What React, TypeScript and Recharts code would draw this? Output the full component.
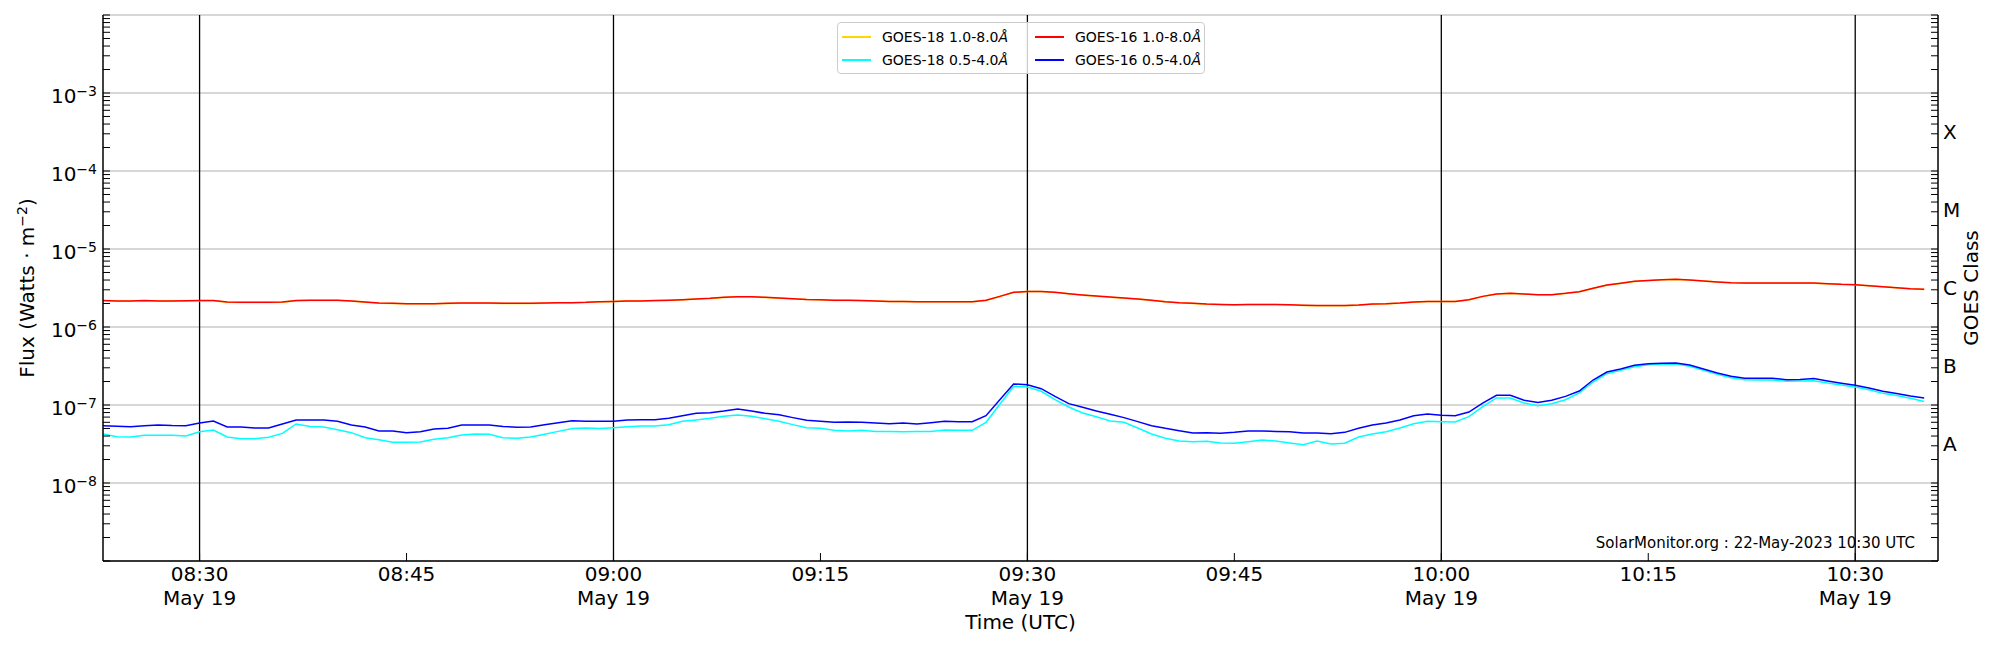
import React from 'react'
import { ComposedChart, Line, XAxis, YAxis, ReferenceLine, Legend } from 'recharts'

const FONT = '"DejaVu Sans", "Liberation Sans", sans-serif'

// one sample per minute, minutes after 08:00 UTC on 19 May 2023
const FIRST_MINUTE = 23
const LONG_UNIT = 1e-6
const SHORT_UNIT = 1e-8

// GOES-16 1.0-8.0 A, in 1e-6 W/m2
const goes16Long = [
  2.18, 2.16, 2.16, 2.18, 2.16, 2.16, 2.17, 2.18, 2.18, 2.09,
  2.07, 2.07, 2.07, 2.09, 2.18, 2.2, 2.2, 2.2, 2.16, 2.09,
  2.03, 2.01, 1.99, 1.99, 1.99, 2.01, 2.03, 2.03, 2.03, 2.01,
  2.01, 2.01, 2.03, 2.05, 2.05, 2.07, 2.11, 2.13, 2.16, 2.16,
  2.18, 2.2, 2.24, 2.29, 2.33, 2.4, 2.45, 2.45, 2.4, 2.35,
  2.31, 2.26, 2.24, 2.2, 2.2, 2.18, 2.16, 2.13, 2.13, 2.11,
  2.11, 2.11, 2.11, 2.11, 2.2, 2.47, 2.78, 2.86, 2.86, 2.78,
  2.67, 2.57, 2.49, 2.42, 2.35, 2.29, 2.2, 2.11, 2.05, 2.01,
  1.97, 1.95, 1.93, 1.95, 1.95, 1.95, 1.93, 1.9, 1.88, 1.88,
  1.88, 1.91, 1.97, 1.99, 2.03, 2.09, 2.13, 2.13, 2.13, 2.24,
  2.47, 2.65, 2.7, 2.65, 2.6, 2.6, 2.7, 2.84, 3.13, 3.45,
  3.63, 3.85, 3.96, 4.04, 4.08, 4.0, 3.89, 3.78, 3.7, 3.66,
  3.66, 3.66, 3.66, 3.66, 3.66, 3.59, 3.52, 3.49, 3.39, 3.29,
  3.19, 3.1, 3.04,
]

// GOES-18 1.0-8.0 A, hidden under the GOES-16 curve
const goes18Long = [
  2.17, 2.15, 2.15, 2.17, 2.15, 2.15, 2.16, 2.17, 2.17, 2.08,
  2.06, 2.06, 2.06, 2.08, 2.17, 2.19, 2.19, 2.19, 2.15, 2.08,
  2.02, 2.0, 1.98, 1.98, 1.98, 2.0, 2.02, 2.02, 2.02, 2.0,
  2.0, 2.0, 2.02, 2.04, 2.04, 2.06, 2.1, 2.12, 2.15, 2.15,
  2.17, 2.19, 2.23, 2.28, 2.32, 2.39, 2.44, 2.44, 2.39, 2.34,
  2.3, 2.25, 2.23, 2.19, 2.19, 2.17, 2.15, 2.12, 2.12, 2.1,
  2.1, 2.1, 2.1, 2.1, 2.19, 2.46, 2.77, 2.85, 2.85, 2.77,
  2.66, 2.56, 2.48, 2.41, 2.34, 2.28, 2.19, 2.1, 2.04, 2.0,
  1.96, 1.94, 1.92, 1.94, 1.94, 1.94, 1.92, 1.89, 1.87, 1.87,
  1.87, 1.9, 1.96, 1.98, 2.02, 2.08, 2.12, 2.12, 2.12, 2.23,
  2.46, 2.64, 2.69, 2.64, 2.59, 2.59, 2.69, 2.83, 3.12, 3.44,
  3.62, 3.84, 3.95, 4.03, 4.07, 3.99, 3.88, 3.77, 3.69, 3.65,
  3.65, 3.65, 3.65, 3.65, 3.65, 3.58, 3.51, 3.48, 3.38, 3.28,
  3.18, 3.09, 3.03,
]

// GOES-16 0.5-4.0 A, in 1e-8 W/m2
const goes16Short = [
  5.43, 5.35, 5.27, 5.4, 5.54, 5.45, 5.43, 5.88, 6.24, 5.22,
  5.22, 5.07, 5.07, 5.71, 6.43, 6.43, 6.43, 6.18, 5.54, 5.22,
  4.65, 4.65, 4.42, 4.55, 4.92, 5.02, 5.54, 5.54, 5.54, 5.32,
  5.17, 5.22, 5.6, 5.94, 6.27, 6.18, 6.18, 6.18, 6.43, 6.49,
  6.49, 6.75, 7.3, 7.82, 7.98, 8.38, 8.89, 8.38, 7.82, 7.52,
  6.89, 6.36, 6.18, 6.0, 6.06, 6.0, 5.88, 5.76, 5.88, 5.71,
  5.94, 6.18, 6.12, 6.12, 7.3, 11.7, 18.6, 18.2, 16.2, 12.9,
  10.4, 9.33, 8.38, 7.59, 6.89, 6.12, 5.43, 5.02, 4.69, 4.38,
  4.42, 4.33, 4.46, 4.65, 4.65, 4.59, 4.55, 4.38, 4.38, 4.29,
  4.46, 5.02, 5.54, 5.88, 6.43, 7.3, 7.67, 7.38, 7.3, 8.13,
  10.6, 13.3, 13.3, 11.5, 10.8, 11.5, 12.9, 15.1, 20.9, 26.5,
  29.0, 32.3, 33.9, 34.3, 34.5, 32.6, 29.0, 25.7, 23.3, 22.0,
  22.0, 22.0, 21.1, 21.3, 21.8, 20.3, 19.0, 17.9, 16.5, 15.0,
  14.0, 13.0, 12.3,
]

// GOES-18 0.5-4.0 A, in 1e-8 W/m2
const goes18Short = [
  4.25, 3.93, 3.89, 4.08, 4.08, 4.08, 4.01, 4.55, 4.78, 3.89,
  3.7, 3.7, 3.85, 4.33, 5.71, 5.32, 5.22, 4.83, 4.42, 3.81,
  3.59, 3.32, 3.32, 3.36, 3.63, 3.81, 4.12, 4.25, 4.21, 3.81,
  3.74, 3.89, 4.21, 4.59, 4.98, 5.07, 4.98, 5.12, 5.27, 5.38,
  5.38, 5.6, 6.18, 6.43, 6.75, 7.16, 7.45, 7.16, 6.68, 6.18,
  5.6, 5.12, 5.02, 4.73, 4.65, 4.73, 4.59, 4.59, 4.55, 4.59,
  4.59, 4.78, 4.73, 4.73, 6.0, 10.2, 17.3, 17.0, 15.0, 11.7,
  9.42, 7.89, 7.08, 6.24, 6.0, 5.07, 4.25, 3.74, 3.45, 3.39,
  3.42, 3.26, 3.23, 3.39, 3.56, 3.45, 3.26, 3.1, 3.45, 3.16,
  3.23, 3.89, 4.25, 4.55, 5.07, 5.76, 6.18, 6.12, 6.06, 7.08,
  9.52, 12.3, 12.3, 10.6, 9.8, 10.4, 11.7, 14.3, 19.7, 25.2,
  27.8, 31.0, 32.9, 33.3, 33.6, 31.3, 27.8, 24.7, 22.4, 21.1,
  20.9, 20.9, 20.1, 20.3, 20.5, 19.1, 18.0, 17.0, 15.7, 14.1,
  13.2, 12.2, 11.1,
]

const timeTicks = [30, 45, 60, 75, 90, 105, 120, 135, 150]
const dayTicks = [30, 60, 90, 120, 150]
const dayLabel = 'May 19'
const decadeExponents = [-9, -8, -7, -6, -5, -4, -3, -2]
const labelledExponents = [-8, -7, -6, -5, -4, -3]
const goesClasses = [
  { letter: 'A', exp: -7.5 },
  { letter: 'B', exp: -6.5 },
  { letter: 'C', exp: -5.5 },
  { letter: 'M', exp: -4.5 },
  { letter: 'X', exp: -3.5 },
]
const series = [
  { key: 'g18l', name: 'GOES-18 1.0-8.0', color: '#ffd700' },
  { key: 'g18s', name: 'GOES-18 0.5-4.0', color: '#00ffff' },
  { key: 'g16l', name: 'GOES-16 1.0-8.0', color: '#ff0000' },
  { key: 'g16s', name: 'GOES-16 0.5-4.0', color: '#0000ff' },
]
const creditText = 'SolarMonitor.org : 22-May-2023 10:30 UTC'

const data = goes16Long.map((_, i) => ({
  t: FIRST_MINUTE + i,
  g18l: goes18Long[i] * LONG_UNIT,
  g18s: goes18Short[i] * SHORT_UNIT,
  g16l: goes16Long[i] * LONG_UNIT,
  g16s: goes16Short[i] * SHORT_UNIT,
}))

const logTicks = decadeExponents.flatMap((e) =>
  e === -2 ? [10 ** e] : [1, 2, 3, 4, 5, 6, 7, 8, 9].map((m) => m * 10 ** e),
)
const rightTicks = [...logTicks, ...goesClasses.map((c) => 10 ** c.exp)]

const hhmm = (m: number) => {
  const h = 8 + Math.floor(m / 60)
  const mm = m % 60
  return `${String(h).padStart(2, '0')}:${String(mm).padStart(2, '0')}`
}

const LeftTick = ({ x, y, payload }: any) => {
  const lg = Math.log10(payload.value)
  const e = Math.round(lg)
  const major = Math.abs(lg - e) < 1e-6
  return (
    <g>
      <line x1={x} x2={x + 7} y1={y} y2={y} stroke="#000" strokeWidth={1} />
      {major && labelledExponents.includes(e) && (
        <text x={x - 6} y={y + 10} textAnchor="end" fontSize={20} fontFamily={FONT} fill="#000">
          10
          <tspan dy={-7} fontSize={14}>{`\u2212${-e}`}</tspan>
        </text>
      )}
    </g>
  )
}

const RightTick = ({ x, y, payload }: any) => {
  const lg = Math.log10(payload.value)
  const cls = goesClasses.find((c) => Math.abs(c.exp - lg) < 1e-6)
  if (cls) {
    return (
      <text x={x + 5} y={y} dominantBaseline="central" fontSize={20} fontFamily={FONT} fill="#000">
        {cls.letter}
      </text>
    )
  }
  return <line x1={x} x2={x - 7} y1={y} y2={y} stroke="#000" strokeWidth={1} />
}

const TimeTick = ({ x, y, payload }: any) => (
  <g>
    <line x1={x} x2={x} y1={y} y2={y - 8} stroke="#000" strokeWidth={1} />
    <text x={x} y={y + 20} textAnchor="middle" fontSize={20} fontFamily={FONT} fill="#000">
      {hhmm(payload.value)}
    </text>
    {dayTicks.includes(payload.value) && (
      <text x={x} y={y + 43.5} textAnchor="middle" fontSize={20} fontFamily={FONT} fill="#000">
        {dayLabel}
      </text>
    )}
  </g>
)

const FluxLabel = ({ viewBox }: any) => {
  const cx = viewBox.x + 34
  const cy = viewBox.y + viewBox.height / 2
  return (
    <text x={cx} y={cy} textAnchor="middle" transform={`rotate(-90 ${cx} ${cy})`} fontSize={20} fontFamily={FONT} fill="#000">
      Flux (Watts · m
      <tspan dy={-7} fontSize={14}>{'\u22122'}</tspan>
      <tspan dy={7}>)</tspan>
    </text>
  )
}

const ClassLabel = ({ viewBox }: any) => {
  const cx = viewBox.x + 40
  const cy = viewBox.y + viewBox.height / 2
  return (
    <text x={cx} y={cy} textAnchor="middle" transform={`rotate(-90 ${cx} ${cy})`} fontSize={20} fontFamily={FONT} fill="#000">
      GOES Class
    </text>
  )
}

const TimeLabel = ({ viewBox }: any) => (
  <g>
    <text x={viewBox.x + viewBox.width / 2} y={viewBox.y + 68} textAnchor="middle" fontSize={20} fontFamily={FONT} fill="#000">
      Time (UTC)
    </text>
    <text x={viewBox.x + viewBox.width - 23} y={viewBox.y - 13} textAnchor="end" fontSize={15} fontFamily={FONT} fill="#000">
      {creditText}
    </text>
  </g>
)

const GoesLegend = () => (
  <div
    style={{
      position: 'relative',
      boxSizing: 'border-box',
      width: 368,
      height: 52,
      border: '1px solid #cccccc',
      borderRadius: 4,
      background: 'rgba(255,255,255,0.8)',
      fontFamily: FONT,
      fontSize: 14,
      color: '#000',
    }}
  >
    {series.map((s, i) => {
      const col = Math.floor(i / 2)
      const row = i % 2
      const mid = 14 + row * 23
      return (
        <React.Fragment key={s.key}>
          <div style={{ position: 'absolute', left: 4 + col * 193, top: mid - 1, width: 29, height: 2, background: s.color }} />
          <div style={{ position: 'absolute', left: 44 + col * 193, top: mid - 9, lineHeight: '18px', whiteSpace: 'nowrap' }}>
            {s.name}
            <i>Å</i>
          </div>
        </React.Fragment>
      )
    })}
  </div>
)

export default function App() {
  return (
    <div style={{ position: 'absolute', left: 0, top: 0, width: 2000, height: 650, background: '#fff' }}>
      <ComposedChart width={2000} height={650} data={data} margin={{ top: 15, right: 0, bottom: 0, left: 0 }}>
        <XAxis
          dataKey="t"
          type="number"
          domain={[23, 156]}
          allowDataOverflow
          ticks={timeTicks}
          interval={0}
          tick={<TimeTick />}
          tickLine={false}
          tickSize={0}
          tickMargin={0}
          height={89}
          axisLine={{ stroke: '#000', strokeWidth: 1.5 }}
          label={TimeLabel}
        />
        <XAxis
          xAxisId="top"
          orientation="top"
          dataKey="t"
          type="number"
          domain={[23, 156]}
          allowDataOverflow
          height={0}
          tick={false}
          tickLine={false}
          axisLine={{ stroke: '#000', strokeWidth: 1.5 }}
        />
        <YAxis
          scale="log"
          type="number"
          domain={[1e-9, 1e-2]}
          allowDataOverflow
          ticks={logTicks}
          interval={0}
          tick={<LeftTick />}
          tickLine={false}
          tickSize={0}
          tickMargin={0}
          width={103}
          axisLine={{ stroke: '#000', strokeWidth: 1.5 }}
          label={FluxLabel}
        />
        <YAxis
          yAxisId="right"
          orientation="right"
          scale="log"
          type="number"
          domain={[1e-9, 1e-2]}
          allowDataOverflow
          ticks={rightTicks}
          interval={0}
          tick={<RightTick />}
          tickLine={false}
          tickSize={0}
          tickMargin={0}
          width={62}
          axisLine={{ stroke: '#000', strokeWidth: 1.5 }}
          label={ClassLabel}
        />
        {decadeExponents.map((e) => (
          <ReferenceLine key={`h${e}`} y={10 ** e} stroke="#b0b0b0" strokeWidth={1.2} />
        ))}
        {dayTicks.map((m) => (
          <ReferenceLine key={`v${m}`} x={m} stroke="#000" strokeWidth={1.3} />
        ))}
        {series.map((s) => (
          <Line
            key={s.key}
            dataKey={s.key}
            name={s.name}
            type="linear"
            stroke={s.color}
            strokeWidth={1.5}
            dot={false}
            activeDot={false}
            isAnimationActive={false}
          />
        ))}
        <Legend
          content={<GoesLegend />}
          layout="horizontal"
          verticalAlign="middle"
          align="center"
          wrapperStyle={{ position: 'absolute', left: 837, top: 22, width: 368, height: 52 }}
        />
      </ComposedChart>
    </div>
  )
}
